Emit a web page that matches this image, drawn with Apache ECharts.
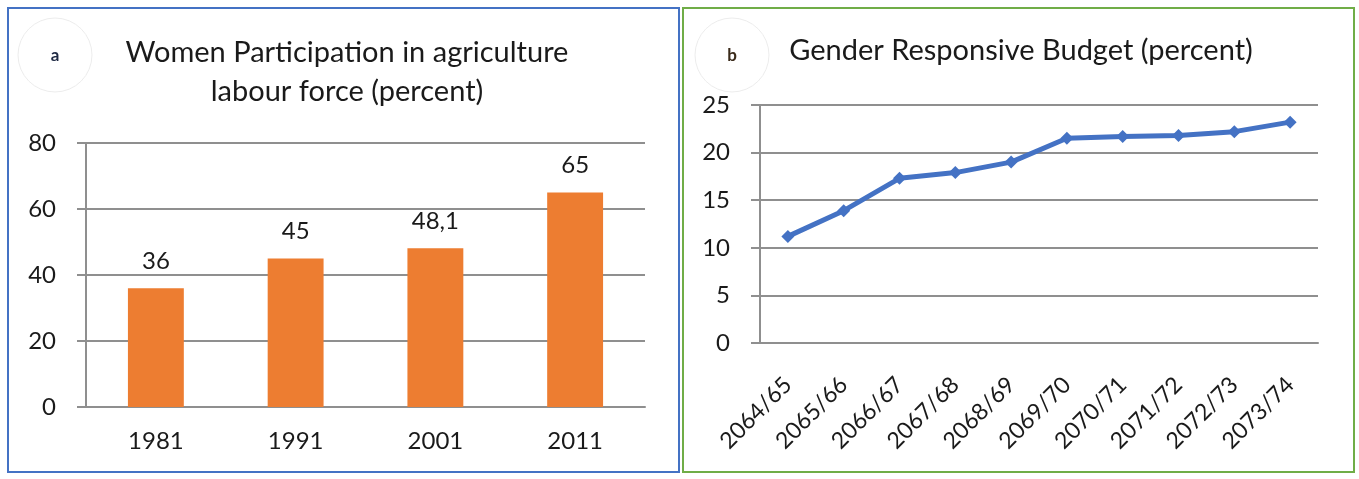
<!DOCTYPE html>
<html>
<head>
<meta charset="utf-8">
<script src="https://cdn.jsdelivr.net/npm/echarts@6/dist/echarts.min.js"></script>
<style>
html, body { margin: 0; padding: 0; background: #fff; }
#chart { width: 1359px; height: 479px; }
</style>
</head>
<body>
<div id="chart"></div>
<script>
// panel a: women in agriculture labour force
var censusYears = ["1981", "1991", "2001", "2011"];
var womenShare = [36, 45, 48.1, 65];

// panel b: gender responsive budget
var fiscalYears = ["2064/65", "2065/66", "2066/67", "2067/68", "2068/69",
  "2069/70", "2070/71", "2071/72", "2072/73", "2073/74"];
var budgetShare = [11.2, 13.9, 17.3, 17.9, 19.0, 21.5, 21.7, 21.8, 22.2, 23.2];

var font = "Lato";
var gridColor = "#8f8f8f";
var textColor = "#1a1a1a";

var myChart = echarts.init(document.getElementById("chart"));

function valueAxis(gridIndex, max, interval) {
  return {
    type: "value", gridIndex: gridIndex, min: 0, max: max, interval: interval,
    axisLine: { show: true, lineStyle: { color: gridColor, width: 2 } },
    axisTick: { show: true, length: 9, lineStyle: { color: gridColor, width: 2 } },
    splitLine: { lineStyle: { color: gridColor, width: 2 } },
    axisLabel: { color: textColor, fontFamily: font, fontSize: 24, margin: 30 }
  };
}

myChart.setOption({
  animation: false,
  title: [
    {
      text: "Women Participation in agriculture\nlabour force (percent)",
      left: 342, top: 28, textAlign: "center",
      textStyle: { fontFamily: font, fontSize: 29, fontWeight: "normal", color: textColor, lineHeight: 39 }
    },
    {
      text: "Gender Responsive Budget (percent)",
      left: 1016, top: 31, textAlign: "center",
      textStyle: { fontFamily: font, fontSize: 29, fontWeight: "normal", color: textColor }
    }
  ],
  grid: [
    { left: 86, right: 714, top: 143, bottom: 72 },
    { left: 760, right: 41, top: 105, bottom: 136 }
  ],
  xAxis: [
    {
      type: "category", gridIndex: 0, data: censusYears,
      axisLine: { lineStyle: { color: gridColor, width: 2 } },
      axisTick: { length: 9, lineStyle: { color: gridColor, width: 2 } },
      axisLabel: { color: textColor, fontFamily: font, fontSize: 24, margin: 22 }
    },
    {
      type: "category", gridIndex: 1, data: fiscalYears,
      axisLine: { lineStyle: { color: gridColor, width: 2 } },
      axisTick: { length: 9, lineStyle: { color: gridColor, width: 2 } },
      axisLabel: { color: textColor, fontFamily: font, fontSize: 23, rotate: 45, margin: 38, interval: 0 }
    }
  ],
  yAxis: [valueAxis(0, 80, 20), valueAxis(1, 25, 5)],
  series: [
    {
      type: "bar", xAxisIndex: 0, yAxisIndex: 0, data: womenShare,
      barWidth: "40%",
      itemStyle: { color: "#ED7D31" },
      label: {
        show: true, position: "top", distance: 15,
        color: textColor, fontFamily: font, fontSize: 24,
        formatter: function (p) { return String(p.value).replace(".", ","); }
      }
    },
    {
      type: "line", xAxisIndex: 1, yAxisIndex: 1, data: budgetShare,
      symbol: "diamond", symbolSize: 13,
      lineStyle: { color: "#4472C4", width: 5 },
      itemStyle: { color: "#4472C4" }
    }
  ],
  graphic: [
    { type: "rect", shape: { x: 8, y: 8, width: 671, height: 464 },
      style: { fill: null, stroke: "#4472C4", lineWidth: 2 }, silent: true },
    { type: "rect", shape: { x: 683, y: 8, width: 671, height: 464 },
      style: { fill: null, stroke: "#70AD47", lineWidth: 2 }, silent: true },
    { type: "circle", shape: { cx: 55, cy: 55, r: 37 },
      style: { fill: "#fff", stroke: "#ececec", lineWidth: 1 }, silent: true },
    { type: "text", x: 55, y: 56,
      style: { text: "a", fontFamily: font, fontWeight: "bold", fontSize: 17, fill: "#1f2a44",
        align: "center", verticalAlign: "middle" } },
    { type: "circle", shape: { cx: 732, cy: 55, r: 37 },
      style: { fill: "#fff", stroke: "#ececec", lineWidth: 1 }, silent: true },
    { type: "text", x: 732, y: 56,
      style: { text: "b", fontFamily: font, fontWeight: "bold", fontSize: 17, fill: "#3a2a1a",
        align: "center", verticalAlign: "middle" } }
  ]
});
</script>
</body>
</html>
